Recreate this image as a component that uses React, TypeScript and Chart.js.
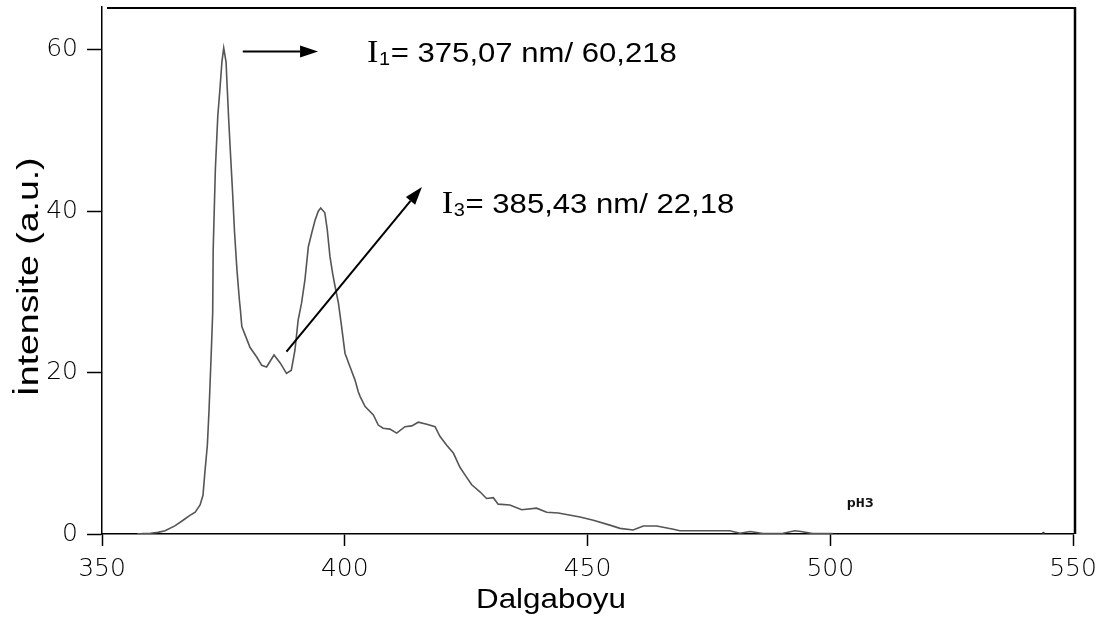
import React, { useEffect, useRef } from "react";
import { Chart, registerables } from "chart.js";

Chart.register(...registerables);

// Emission spectrum (wavelength in nm, intensity in a.u.)
const WAVELENGTH = [
  357.2, 358.5, 360.0, 361.5, 363.0, 365.0, 366.7, 368.1, 369.2, 370.2,
  370.8, 371.2, 371.7, 372.05, 372.45, 372.8, 372.9, 373.35, 373.85, 374.3,
  374.7, 375.07, 375.55, 375.8, 376.1, 376.5, 376.9, 377.3, 377.8, 378.3,
  378.5, 378.8, 379.45, 380.5, 381.9, 382.9, 383.9, 385.43, 386.7, 388.0,
  389.0, 389.75, 390.4, 391.1, 391.8, 392.5, 393.2, 393.9, 394.55, 395.05,
  395.9, 396.4, 396.95, 397.5, 398.0, 398.7, 399.35, 400.05, 401.1, 402.1,
  402.8, 403.2, 404.2, 405.9, 406.9, 407.9, 409.3, 410.7, 412.4, 413.8,
  415.15, 416.9, 418.6, 419.6, 421.0, 422.4, 423.7, 424.8, 426.15, 427.9,
  429.2, 430.6, 431.6, 434.0, 436.45, 439.5, 441.6, 444.0, 448.45, 451.2,
  454.6, 456.7, 459.4, 461.5, 464.25, 467.7, 469.0, 479.3, 481.4, 483.5,
  486.2, 490.3, 492.7, 494.0, 496.4, 500.5,
];
const INTENSITY = [
  0.0, 0.05, 0.1, 0.2, 0.4, 1.0, 1.7, 2.3, 2.7, 3.6,
  4.8, 7.7, 11.0, 15.4, 21.6, 27.4, 35.2, 45.2, 51.8, 55.2,
  58.5, 60.218, 58.5, 55.2, 51.3, 46.7, 42.3, 37.4, 32.7, 29.0,
  27.8, 25.7, 24.7, 23.1, 21.9, 20.9, 20.7, 22.18, 21.2, 19.9,
  20.3, 22.8, 26.5, 28.6, 31.5, 35.6, 37.3, 38.9, 40.0, 40.4,
  39.8, 37.7, 34.4, 32.3, 30.7, 28.6, 25.7, 22.4, 20.7, 19.1,
  17.6, 17.0, 15.8, 14.75, 13.5, 13.1, 13.0, 12.5, 13.3, 13.4,
  13.85, 13.6, 13.3, 12.1, 11.0, 10.0, 8.3, 7.3, 6.1, 5.2,
  4.4, 4.5, 3.7, 3.6, 3.0, 3.2, 2.7, 2.6, 2.1, 1.7,
  1.1, 0.7, 0.5, 1.0, 1.0, 0.6, 0.4, 0.4, 0.1, 0.3,
  0.05, 0.1, 0.4, 0.3, 0.05, 0.05,
];
// Lone reading far out on the baseline
const STRAY_X = [543.9];
const STRAY_Y = [0.1];

const X_TICKS = [350, 400, 450, 500, 550];
const Y_TICKS = [0, 20, 40, 60];
const X_MIN = 350;
const X_MAX = 550;
const Y_MAX = 65.3;

// Peak call-outs: arrow tail/tip and label anchor, all in data units
const ARROW_FROM_X = [379.0, 388.0];
const ARROW_FROM_Y = [59.8, 22.6];
const ARROW_TO_X = [394.5, 415.9];
const ARROW_TO_Y = [59.8, 43.0];
const NOTE_X = [404.6, 420.0];
const NOTE_Y = [58.5, 39.75];
const NOTE_SUB = ["1", "3"];
const NOTE_TEXT = ["= 375,07 nm/ 60,218", "= 385,43 nm/ 22,18"];

const SAMPLE_TAG = "pH3";
const SAMPLE_TAG_X = 503.4;
const SAMPLE_TAG_Y = 3.3;

const X_TITLE = "Dalgaboyu";
const Y_TITLE = "İntensite (a.u.)";

const SANS = '"Liberation Sans", Arial, sans-serif';
const SERIF = '"Liberation Serif", "Times New Roman", serif';
const TICK_FONT = '"DejaVu Sans", sans-serif';

function arrow(ctx: CanvasRenderingContext2D, x0: number, y0: number, x1: number, y1: number) {
  const ang = Math.atan2(y1 - y0, x1 - x0);
  const head = 18;
  const half = 6;
  const bx = x1 - head * Math.cos(ang);
  const by = y1 - head * Math.sin(ang);
  ctx.beginPath();
  ctx.moveTo(x0, y0);
  ctx.lineTo(bx, by);
  ctx.lineWidth = 2;
  ctx.strokeStyle = "#000";
  ctx.stroke();
  ctx.beginPath();
  ctx.moveTo(x1, y1);
  ctx.lineTo(bx + half * Math.sin(ang), by - half * Math.cos(ang));
  ctx.lineTo(bx - half * Math.sin(ang), by + half * Math.cos(ang));
  ctx.closePath();
  ctx.fillStyle = "#000";
  ctx.fill();
}

const decorations = {
  id: "decorations",
  afterDraw(chart: any) {
    const { ctx, chartArea, scales } = chart;
    const xs = scales.x;
    const ys = scales.y;
    ctx.save();

    // frame: top and right edges
    ctx.strokeStyle = "#000";
    ctx.lineWidth = 2;
    ctx.beginPath();
    ctx.moveTo(chartArea.left + 5, chartArea.top + 1);
    ctx.lineTo(chartArea.right + 2, chartArea.top + 1);
    ctx.stroke();
    ctx.lineWidth = 2.5;
    ctx.beginPath();
    ctx.moveTo(chartArea.right + 2, chartArea.top);
    ctx.lineTo(chartArea.right + 2, chartArea.bottom);
    ctx.stroke();

    // arrows
    for (let i = 0; i < ARROW_FROM_X.length; i++) {
      arrow(
        ctx,
        xs.getPixelForValue(ARROW_FROM_X[i]),
        ys.getPixelForValue(ARROW_FROM_Y[i]),
        xs.getPixelForValue(ARROW_TO_X[i]),
        ys.getPixelForValue(ARROW_TO_Y[i])
      );
    }

    // peak labels: serif "I", sans subscript, sans value text
    ctx.fillStyle = "#000";
    ctx.textBaseline = "alphabetic";
    ctx.textAlign = "left";
    for (let i = 0; i < NOTE_X.length; i++) {
      ctx.save();
      ctx.translate(xs.getPixelForValue(NOTE_X[i]), ys.getPixelForValue(NOTE_Y[i]));
      ctx.scale(1.11, 1);
      let x = 0;
      ctx.font = `31px ${SERIF}`;
      ctx.fillText("I", x, 0);
      x += ctx.measureText("I").width + 0.5;
      ctx.font = `18px ${SANS}`;
      ctx.fillText(NOTE_SUB[i], x, 3);
      x += ctx.measureText(NOTE_SUB[i]).width + 0.5;
      ctx.font = `28px ${SANS}`;
      ctx.fillText(NOTE_TEXT[i], x, 0);
      ctx.restore();
    }

    // sample tag
    ctx.save();
    ctx.translate(xs.getPixelForValue(SAMPLE_TAG_X), ys.getPixelForValue(SAMPLE_TAG_Y));
    ctx.scale(1.15, 1);
    ctx.font = `bold 13px "DejaVu Sans Mono", monospace`;
    ctx.fillStyle = "#111";
    ctx.fillText(SAMPLE_TAG, 0, 0);
    ctx.restore();

    // axis titles
    ctx.fillStyle = "#000";
    ctx.save();
    ctx.translate(chartArea.left + 449, chartArea.bottom + 74);
    ctx.scale(1.12, 1);
    ctx.font = `28px ${SANS}`;
    ctx.textAlign = "center";
    ctx.fillText(X_TITLE, 0, 0);
    ctx.restore();

    ctx.save();
    ctx.translate(38, 277);
    ctx.rotate(-Math.PI / 2);
    ctx.scale(1.29, 1);
    ctx.font = `29px ${SANS}`;
    ctx.textAlign = "center";
    ctx.fillText(Y_TITLE, 0, 0);
    ctx.restore();

    ctx.restore();
  },
};

export default function App() {
  const canvasRef = useRef<HTMLCanvasElement | null>(null);

  useEffect(() => {
    if (!canvasRef.current) return;
    const chart = new Chart(canvasRef.current, {
      type: "line",
      data: {
        datasets: [
          {
            data: WAVELENGTH.map((w, i) => ({ x: w, y: INTENSITY[i] })),
            borderColor: "#555",
            borderWidth: 1.6,
            pointRadius: 0,
            tension: 0,
            fill: false,
          },
          {
            data: STRAY_X.map((w, i) => ({ x: w, y: STRAY_Y[i] })),
            showLine: false,
            pointRadius: 1.5,
            pointBackgroundColor: "#333",
            pointBorderWidth: 0,
          },
        ],
      },
      options: {
        animation: false,
        responsive: true,
        maintainAspectRatio: false,
        layout: { padding: { top: 7, right: 30, left: 0, bottom: 0 } },
        plugins: {
          legend: { display: false },
          tooltip: { enabled: false },
        },
        scales: {
          x: {
            type: "linear",
            min: X_MIN,
            max: X_MAX,
            afterFit: (s: any) => {
              s.height = 84;
              s.paddingLeft = 0;
              s.paddingRight = 0;
            },
            afterBuildTicks: (s: any) => {
              s.ticks = X_TICKS.map((v) => ({ value: v }));
            },
            border: { display: true, color: "#000", width: 1.5 },
            grid: {
              drawOnChartArea: false,
              drawTicks: true,
              tickLength: 12,
              color: "#000",
              tickWidth: 1.5,
            },
            ticks: {
              color: "#000",
              padding: 8,
              font: { family: TICK_FONT, size: 25, weight: "200" as any },
              maxRotation: 0,
            },
          },
          y: {
            type: "linear",
            min: 0,
            max: Y_MAX,
            afterFit: (s: any) => {
              s.width = 102;
              s.paddingTop = 0;
              s.paddingBottom = 0;
            },
            afterBuildTicks: (s: any) => {
              s.ticks = Y_TICKS.map((v) => ({ value: v }));
            },
            border: { display: true, color: "#000", width: 1.5 },
            grid: {
              drawOnChartArea: false,
              drawTicks: true,
              tickLength: 15,
              color: "#000",
              tickWidth: 1.5,
            },
            ticks: {
              color: "#000",
              padding: 9,
              font: { family: TICK_FONT, size: 25, weight: "200" as any },
            },
          },
        },
      },
      plugins: [decorations],
    });
    return () => chart.destroy();
  }, []);

  return (
    <div style={{ position: "absolute", left: 0, top: 0, width: 1103, height: 618, background: "#fff" }}>
      <canvas ref={canvasRef} />
    </div>
  );
}
